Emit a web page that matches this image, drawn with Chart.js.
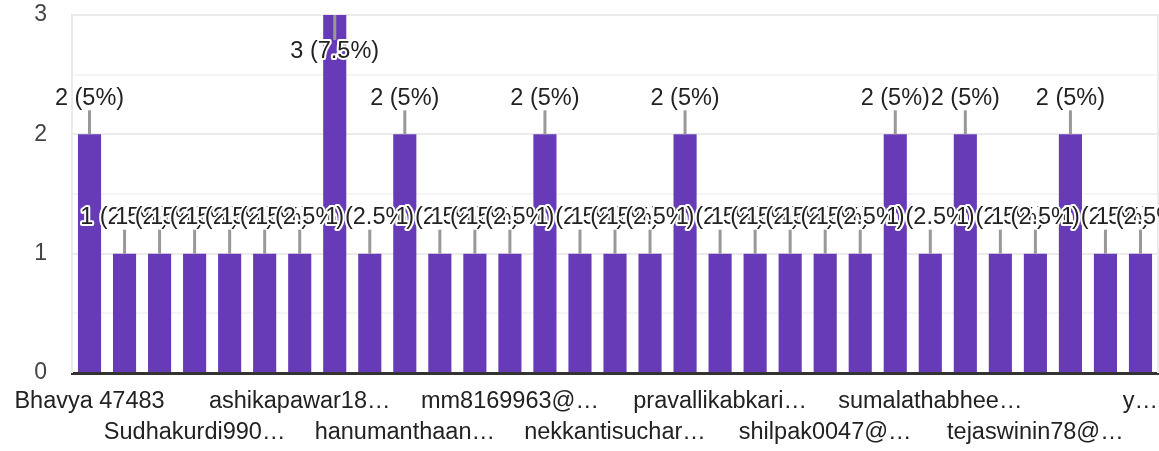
<!DOCTYPE html>
<html>
<head>
<meta charset="utf-8">
<script src="https://cdn.jsdelivr.net/npm/chart.js@4/dist/chart.umd.min.js"></script>
<style>
  html, body { margin: 0; padding: 0; background: #fff; }
  #wrap { width: 1159px; height: 451px; position: relative; }
</style>
</head>
<body>
<div id="wrap"><canvas id="grafico"></canvas></div>
<script>
// nomes (ordenados como no original: maiusculas primeiro)
const nomes = [
  'Bhavya 47483', 'Divya Sree', 'Lakshmi P…', 'Sudhakurdi990…', 'Swathi K…', 'Vani 2345',
  'ashikapawar18…', 'bhargavi…', 'divyareddy…', 'hanumanthaan…', 'kavyasri…', 'lavanya…',
  'mm8169963@…', 'mounika…', 'navya…', 'nekkantisuchar…', 'padmaja…', 'pooja…',
  'pravallikabkari…', 'ramya…', 'sandhya…', 'shilpak0047@…', 'sireesha…', 'sowmya…',
  'sumalathabhee…', 'swapna…', 'tejasri…', 'tejaswinin78@…', 'varsha…', 'vijaya…',
  'y…'
];
const respostas = [2, 1, 1, 1, 1, 1, 1, 3, 1, 2, 1, 1, 1, 2, 1, 1, 1, 2, 1, 1, 1, 1, 1, 2, 1, 2, 1, 1, 2, 1, 1];
const total = 40;
const ticksY = [0, 1, 2, 3];

const fonte = '"Liberation Sans", Arial, sans-serif';

// bordas laterais da area do grafico
const bordaPlugin = {
  id: 'borda',
  beforeDatasetsDraw(chart) {
    const { ctx, chartArea: a } = chart;
    ctx.save();
    ctx.strokeStyle = '#ebebeb';
    ctx.lineWidth = 2;
    ctx.beginPath();
    ctx.moveTo(a.left, a.top - 1); ctx.lineTo(a.left, a.bottom);
    ctx.moveTo(a.right, a.top - 1); ctx.lineTo(a.right, a.bottom);
    ctx.stroke();
    ctx.restore();
  }
};

// anotacoes "n (x%)" com haste cinza
const anotacaoPlugin = {
  id: 'anotacao',
  afterDatasetsDraw(chart) {
    const { ctx, chartArea: a } = chart;
    const barras = chart.getDatasetMeta(0).data;
    ctx.save();
    ctx.font = '23.5px ' + fonte;
    ctx.textAlign = 'center';
    ctx.textBaseline = 'middle';
    barras.forEach((b, i) => {
      const v = respostas[i];
      const pct = Math.round(v / total * 1000) / 10;
      const texto = v + ' (' + pct + '%)';
      const dentro = b.y - 50 < a.top;
      const haste = dentro ? b.y + 25 : b.y - 24;
      const ty = dentro ? b.y + 37 : b.y - 36;
      ctx.strokeStyle = '#999';
      ctx.lineWidth = 3;
      ctx.beginPath();
      ctx.moveTo(b.x, b.y);
      ctx.lineTo(b.x, haste);
      ctx.stroke();
      ctx.lineJoin = 'round';
      ctx.strokeStyle = '#fff';
      ctx.lineWidth = 4;
      ctx.strokeText(texto, b.x, ty);
      ctx.fillStyle = '#222';
      ctx.fillText(texto, b.x, ty);
    });
    ctx.restore();
  }
};

new Chart(document.getElementById('grafico'), {
  type: 'bar',
  data: {
    labels: nomes,
    datasets: [{
      data: respostas,
      backgroundColor: '#673ab7',
      categoryPercentage: 1,
      barPercentage: 0.66
    }]
  },
  options: {
    responsive: true,
    maintainAspectRatio: false,
    animation: false,
    layout: { padding: { top: 15, right: 1, left: 0, bottom: 0 } },
    plugins: { legend: { display: false }, tooltip: { enabled: false } },
    scales: {
      x: {
        grid: { display: false },
        border: { display: true, color: '#333', width: 3 },
        afterFit(s) { s.height = 78; s.paddingLeft = 0; s.paddingRight = 0; },
        ticks: {
          autoSkip: false,
          maxRotation: 0,
          color: '#222',
          padding: 5,
          font: { family: fonte, size: 23.5, lineHeight: 1.33 },
          callback(v, i) {
            if (i % 6 === 0) return nomes[i];
            if (i % 3 === 0) return ['', nomes[i]];
            return '';
          }
        }
      },
      y: {
        min: 0,
        max: ticksY[ticksY.length - 1],
        border: { display: false },
        afterFit(s) { s.width = 72; s.paddingTop = 0; s.paddingBottom = 0; },
        grid: {
          drawTicks: false,
          lineWidth: 2,
          color: ctx => Number.isInteger(ctx.tick.value) ? '#ebebeb' : '#f5f5f5'
        },
        ticks: {
          stepSize: 0.5,
          padding: 25,
          color: '#444',
          font: { family: fonte, size: 23 },
          callback: v => ticksY.includes(v) ? v : ''
        }
      }
    }
  },
  plugins: [bordaPlugin, anotacaoPlugin]
});
</script>
</body>
</html>
